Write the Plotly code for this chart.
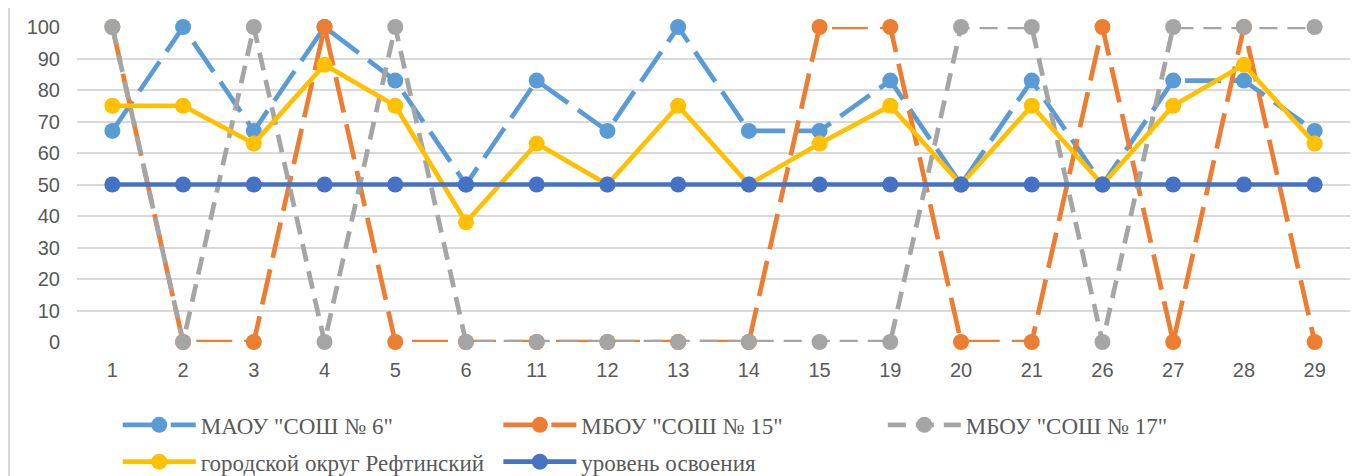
import plotly.graph_objects as go

categories = ["1", "2", "3", "4", "5", "6", "11", "12", "13", "14", "15", "19", "20", "21", "26", "27", "28", "29"]

sosh6 = [67, 100, 67, 100, 83, 50, 83, 67, 100, 67, 67, 83, 50, 83, 50, 83, 83, 67]
sosh15 = [100, 0, 0, 100, 0, 0, 0, 0, 0, 0, 100, 100, 0, 0, 100, 0, 100, 0]
sosh17 = [100, 0, 100, 0, 100, 0, 0, 0, 0, 0, 0, 0, 100, 100, 0, 100, 100, 100]
reftinsky = [75, 75, 63, 88, 75, 38, 63, 50, 75, 50, 63, 75, 50, 75, 50, 75, 88, 63]
level = [50] * len(categories)

names = ['МАОУ "СОШ № 6"', 'МБОУ "СОШ № 15"', 'МБОУ "СОШ № 17"',
         'городской округ Рефтинский', 'уровень освоения']
series = [sosh6, sosh15, sosh17, reftinsky, level]
colors = ["#5B9BD5", "#ED7D31", "#A5A5A5", "#FFC000", "#4472C4"]
dashes = ["36px,12px", "36px,12px", "18px,10px", "solid", "solid"]
legend_ids = ["legend", "legend2", "legend3", "legend4", "legend5"]

TICK_FONT = "Liberation Sans"
LEG_FONT = "Liberation Serif"

fig = go.Figure()
for name, vals, col, dash, lg in zip(names, series, colors, dashes, legend_ids):
    fig.add_trace(go.Scatter(
        x=categories, y=vals, name=name, mode="lines+markers",
        line=dict(color=col, width=4.7, dash=dash),
        marker=dict(color=col, size=16),
        cliponaxis=False, legend=lg,
    ))

# legend positions (Excel-like layout, 3 items on first row, 2 on second)
leg_pos = [(0.032, -0.263), (0.331, -0.263), (0.633, -0.263), (0.032, -0.38), (0.331, -0.38)]
leg_common = dict(font=dict(family=LEG_FONT, size=23, color="#595959"), bgcolor="rgba(0,0,0,0)",
                  itemwidth=73, yanchor="middle", xanchor="left", orientation="h")
legends = {}
for lg, (lx, ly) in zip(legend_ids, leg_pos):
    legends[lg] = dict(x=lx, y=ly, **leg_common)

fig.update_layout(
    width=1353, height=468,
    margin=dict(l=69, r=11, t=19, b=134, autoexpand=False),
    paper_bgcolor="white", plot_bgcolor="white",
    font=dict(family=TICK_FONT, size=20, color="#595959"),
    showlegend=True,
    **legends,
)
fig.update_xaxes(type="category", range=[-0.5, len(categories) - 0.5],
                 showgrid=False, showline=False, ticks="", ticklabelstandoff=14)
fig.update_yaxes(range=[0, 100], dtick=10, showgrid=True, gridcolor="#D9D9D9",
                 gridwidth=1.5, zeroline=False, showline=False, ticklabelstandoff=16)

# left frame line of the chart area
fig.add_shape(type="line", xref="paper", yref="paper",
              x0=-68 / 1273, x1=-68 / 1273, y0=-134 / 315, y1=1 + 19 / 315,
              line=dict(color="#D9D9D9", width=2), layer="below")

fig.write_html("out.html")
